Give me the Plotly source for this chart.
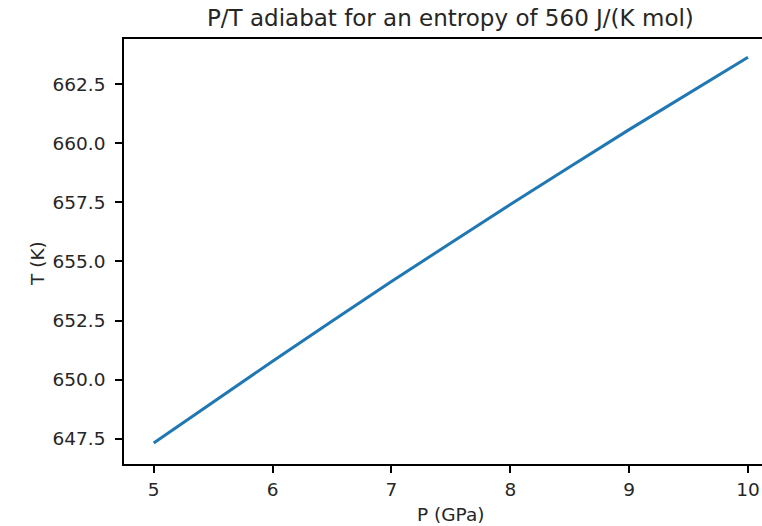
import plotly.graph_objects as go

pressure_gpa = [5, 6, 7, 8, 9, 10]
temperature_k = [647.32, 650.78, 654.15, 657.41, 660.58, 663.64]

y_ticks = [647.5, 650.0, 652.5, 655.0, 657.5, 660.0, 662.5]
y_tick_text = ["647.5", "650.0", "652.5", "655.0", "657.5", "660.0", "662.5"]
x_ticks = [5, 6, 7, 8, 9, 10]

title_text = "P/T adiabat for an entropy of 560 J/(K mol)"
x_label = "P (GPa)"
y_label = "T (K)"

font_fam = "DejaVu Sans"
txt_col = "#262626"

fig = go.Figure()
fig.add_trace(go.Scatter(x=pressure_gpa, y=temperature_k, mode="lines",
                         line=dict(color="#1f77b4", width=3, shape="spline", smoothing=0.6),
                         showlegend=False))

W, H = 762, 526
L, R, T, B = 124, 0, 39, 62

fig.update_layout(
    width=W, height=H,
    margin=dict(l=L, r=R, t=T, b=B, pad=0),
    paper_bgcolor="white", plot_bgcolor="white",
    font=dict(family=font_fam, size=18, color=txt_col),
    xaxis=dict(range=[4.75, 10.118], tickvals=x_ticks, showgrid=False, zeroline=False,
               showline=True, linecolor="#000", linewidth=1.6, mirror=True,
               ticks="outside", ticklen=7, tickwidth=1.6, tickcolor="#000",
               ticklabelstandoff=1,
               tickfont=dict(size=18.5, color=txt_col, family=font_fam)),
    yaxis=dict(range=[646.43, 664.415], tickvals=y_ticks, ticktext=y_tick_text,
               showgrid=False, zeroline=False,
               showline=True, linecolor="#000", linewidth=1.6, mirror=False,
               ticks="outside", ticklen=7, tickwidth=1.6, tickcolor="#000",
               ticklabelstandoff=6,
               tickfont=dict(size=18.5, color=txt_col, family=font_fam)),
)

plot_w = W - L - R
fig.add_annotation(text=title_text, xref="paper", yref="paper",
                   x=(450 - L) / plot_w, y=1 + (T - 18) / (H - T - B),
                   xanchor="center", yanchor="middle", showarrow=False,
                   font=dict(size=23, color=txt_col, family=font_fam))
fig.add_annotation(text=x_label, xref="paper", yref="paper",
                   x=(450 - L) / plot_w, y=-(514 - (H - B)) / (H - T - B),
                   xanchor="center", yanchor="middle", showarrow=False,
                   font=dict(size=18.5, color=txt_col, family=font_fam))
fig.add_annotation(text=y_label, xref="paper", yref="paper",
                   x=-(L - 37) / plot_w, y=(H - B - 264) / (H - T - B),
                   xanchor="center", yanchor="middle", showarrow=False, textangle=-90,
                   font=dict(size=18.5, color=txt_col, family=font_fam))

fig.write_html("out.html", config={"displayModeBar": False},
               post_script="document.body.style.margin='0';document.body.style.overflow='hidden';")
